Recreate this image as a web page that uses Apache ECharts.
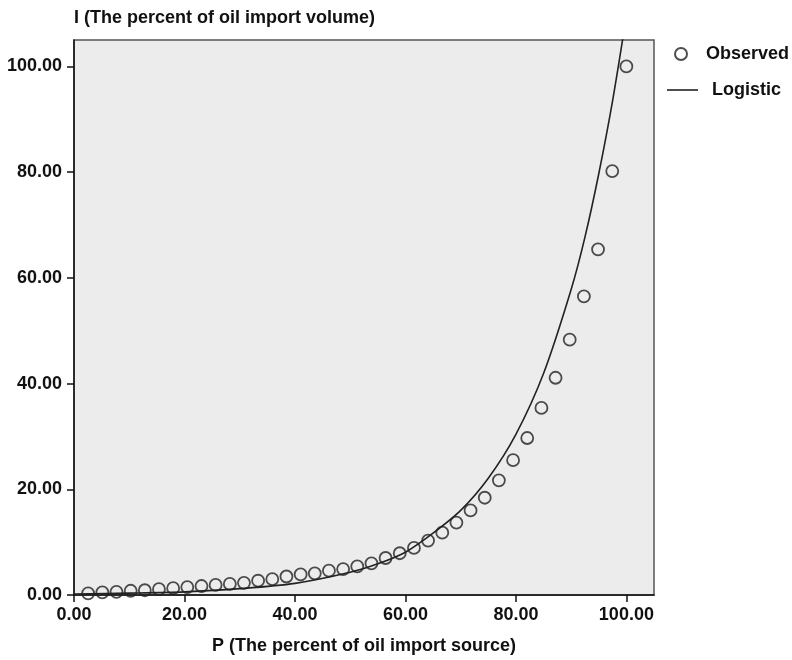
<!DOCTYPE html>
<html>
<head>
<meta charset="utf-8">
<script src="https://cdn.jsdelivr.net/npm/echarts@6/dist/echarts.min.js"></script>
<style>
html,body{margin:0;padding:0;background:#fff;}
#chart{width:792px;height:660px;}
</style>
</head>
<body>
<div id="chart"></div>
<script>
// Observed points: P (share of import sources, %) and I (share of import volume, %)
var observedP = [2.56, 5.13, 7.69, 10.26, 12.82, 15.38, 17.95, 20.51, 23.08, 25.64,
  28.21, 30.77, 33.33, 35.90, 38.46, 41.03, 43.59, 46.15, 48.72, 51.28,
  53.85, 56.41, 58.97, 61.54, 64.10, 66.67, 69.23, 71.79, 74.36, 76.92,
  79.49, 82.05, 84.62, 87.18, 89.74, 92.31, 94.87, 97.44, 100.00];
var observedI = [0.3, 0.5, 0.6, 0.8, 0.9, 1.1, 1.3, 1.5, 1.7, 1.9,
  2.1, 2.3, 2.7, 3.0, 3.5, 3.9, 4.1, 4.6, 4.9, 5.4,
  6.0, 7.0, 7.9, 8.9, 10.3, 11.8, 13.7, 16.0, 18.4, 21.7,
  25.5, 29.7, 35.4, 41.1, 48.3, 56.5, 65.4, 80.2, 100.0];
// Logistic fitted curve
var logisticP = [0, 10, 20, 30, 40, 50, 55, 60, 65, 70, 75, 80, 85, 90, 92.5, 95, 97.5, 100];
var logisticI = [0.2, 0.35, 0.6, 1.2, 2.2, 4.3, 5.9, 8.1, 11.7, 16.0, 22.1, 30.4, 41.9, 57.8, 67.7, 79.7, 93.5, 109.6];
var tickValues = [0, 20, 40, 60, 80, 100];
var seriesNames = ['Observed', 'Logistic'];
var xTitle = 'P (The percent of oil import source)';
var yTitle = 'I (The percent of oil import volume)';

var FONT = 'Liberation Sans';
var obsData = observedP.map(function (p, i) { return [p, observedI[i]]; });
var logData = logisticP.map(function (p, i) { return [p, logisticI[i]]; });

var chart = echarts.init(document.getElementById('chart'), null, {renderer: 'canvas'});
var labelStyle = {color: '#111', fontFamily: FONT, fontWeight: 'bold', fontSize: 18};
function fmt(v) { return tickValues.indexOf(v) >= 0 ? v.toFixed(2) : ''; }
chart.setOption({
  animation: false,
  backgroundColor: '#ffffff',
  grid: {left: 74, right: 138, top: 40, bottom: 64, show: true,
    backgroundColor: '#ececec', borderColor: '#555', borderWidth: 1.5},
  legend: [
    {data: [seriesNames[0]], left: 669, top: 40, orient: 'vertical',
      itemWidth: 12, itemHeight: 12,
      textStyle: Object.assign({padding: [0, 0, 0, 14]}, labelStyle)},
    {data: [{name: seriesNames[1], icon: 'rect'}], left: 662, top: 76, orient: 'vertical',
      itemWidth: 31, itemHeight: 1.6,
      textStyle: Object.assign({padding: [0, 0, 0, 9]}, labelStyle)}
  ],
  xAxis: {
    type: 'value', min: 0, max: 105, interval: 20,
    name: xTitle, nameLocation: 'middle', nameGap: 42,
    nameTextStyle: labelStyle,
    axisLine: {show: true, lineStyle: {color: '#111', width: 1.5}},
    axisTick: {show: true, length: 7, lineStyle: {color: '#111', width: 1.5}},
    axisLabel: Object.assign({margin: 11, showMaxLabel: false, formatter: fmt}, labelStyle),
    splitLine: {show: false}
  },
  yAxis: {
    type: 'value', min: 0, max: 105, interval: 20,
    name: yTitle, nameLocation: 'end', nameGap: 13,
    nameTextStyle: Object.assign({align: 'left', verticalAlign: 'bottom'}, labelStyle),
    axisLine: {show: true, lineStyle: {color: '#111', width: 1.5}},
    axisTick: {show: true, length: 7, lineStyle: {color: '#111', width: 1.5}},
    axisLabel: Object.assign({margin: 12, showMaxLabel: false, formatter: fmt}, labelStyle),
    splitLine: {show: false}
  },
  series: [
    {name: seriesNames[0], type: 'scatter', data: obsData, symbol: 'circle', symbolSize: 12,
      itemStyle: {color: 'rgba(0,0,0,0)', borderColor: '#222', borderWidth: 1.8}, z: 3},
    {name: seriesNames[1], type: 'line', data: logData, smooth: 0.3, symbol: 'none', clip: true,
      lineStyle: {color: '#222', width: 1.6}, itemStyle: {color: '#222'}, z: 2}
  ]
});
</script>
</body>
</html>
